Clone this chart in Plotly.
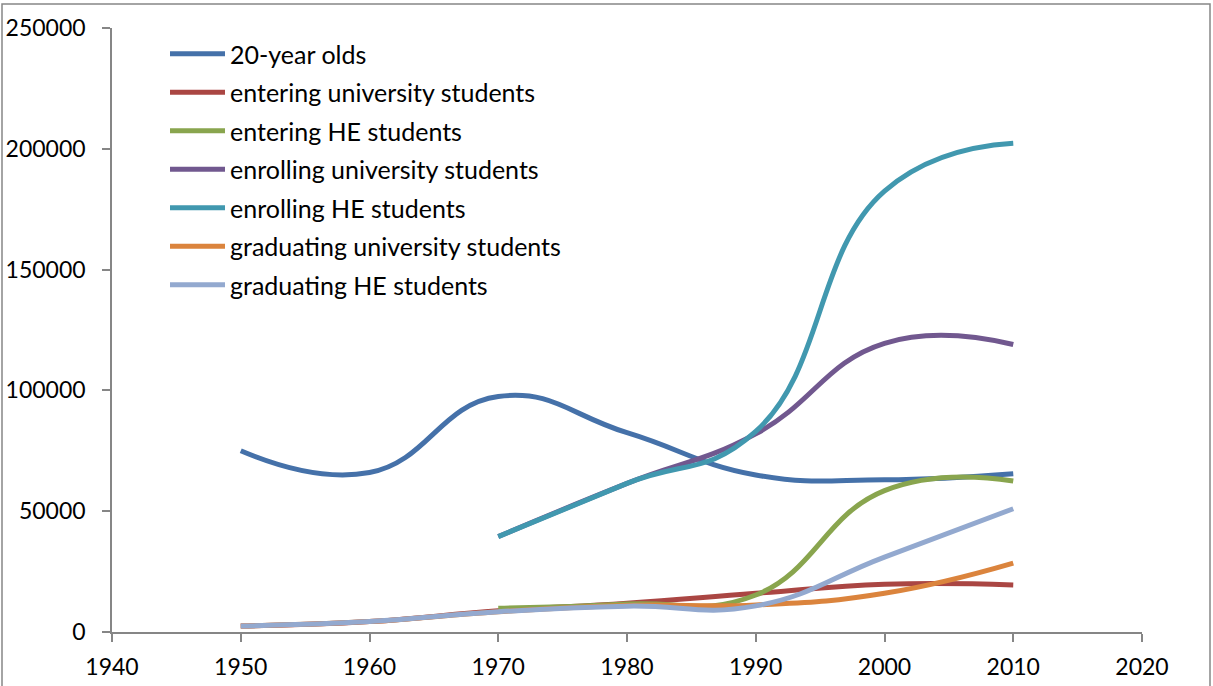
import plotly.graph_objs as go

years = [1950, 1960, 1970, 1980, 1990, 2000, 2010]

twenty_year_olds = [75000, 66000, 97500, 82500, 65000, 63000, 65500]
entering_univ = [2500, 4300, 8800, 11900, 16000, 19800, 19500]
entering_he = [None, None, 9800, 11600, 15300, 58500, 62500]
enrolling_univ = [None, None, 39500, 61500, 82000, 119500, 119000]
enrolling_he = [None, None, 39500, 61500, 83000, 182500, 202300]
graduating_univ = [2500, 4300, 8400, 11000, 11200, 16000, 28500]
graduating_he = [2500, 4300, 8400, 10700, 10800, 31000, 51000]

series_names = [
    '20-year olds',
    'entering university students',
    'entering HE students',
    'enrolling university students',
    'enrolling HE students',
    'graduating university students',
    'graduating HE students',
]
series_values = [twenty_year_olds, entering_univ, entering_he, enrolling_univ,
                 enrolling_he, graduating_univ, graduating_he]
colors = ['#4571A9', '#AA4643', '#89A54E', '#71588F', '#4198AF', '#DB843D', '#93A9CF']

x_ticks = [1940, 1950, 1960, 1970, 1980, 1990, 2000, 2010, 2020]

font = 'Lato, Carlito, Calibri, sans-serif'
axis_grey = '#868686'

data = []
for i, (name, vals) in enumerate(zip(series_names, series_values)):
    trace = go.Scatter(
        name=name,
        x=years,
        y=vals,
        mode='lines',
        legendgroup=str(i),
        line=dict(color=colors[i], width=5, shape='spline', smoothing=1.3),
    )
    data.append(trace)

# plot area in pixels: x 112..1142, y 28..632
W, H = 1213, 686
L, R, T, B = 112, 71, 28, 54
pw, ph = W - L - R, H - T - B


def px(p):
    return (p - L) / pw


def py(q):
    return (H - B - q) / ph


layout = go.Layout(
    width=W,
    height=H,
    margin=dict(l=L, r=R, t=T, b=B),
    paper_bgcolor='white',
    plot_bgcolor='white',
    font=dict(family=font, size=23, color='black'),
    showlegend=True,
    legend=dict(
        x=px(165), y=py(31), xanchor='left', yanchor='top',
        bgcolor='rgba(0,0,0,0)',
        font=dict(family=font, size=25, color='black'),
        tracegroupgap=3,
        itemwidth=55,
    ),
    xaxis=dict(
        range=[1940, 2020],
        tickvals=x_ticks,
        ticks='outside', ticklen=8, tickwidth=1.5, tickcolor=axis_grey,
        showline=True, linecolor=axis_grey, linewidth=1.5,
        showgrid=False, zeroline=False,
        ticklabelstandoff=6,
        automargin=False,
    ),
    yaxis=dict(
        range=[0, 250000],
        dtick=50000,
        tickformat='d',
        ticks='outside', ticklen=8, tickwidth=1.5, tickcolor=axis_grey,
        showline=True, linecolor=axis_grey, linewidth=1.5,
        showgrid=False, zeroline=False,
        ticklabelstandoff=12,
        automargin=False,
    ),
    shapes=[dict(
        type='rect', xref='paper', yref='paper',
        x0=px(2), x1=px(1210), y0=py(740), y1=py(4),
        line=dict(color=axis_grey, width=1.5),
        layer='below',
    )],
)

fig = go.Figure(data=data, layout=layout)
fig.write_html('out.html', config={'displayModeBar': False},
               post_script="document.body.style.margin='0';")
